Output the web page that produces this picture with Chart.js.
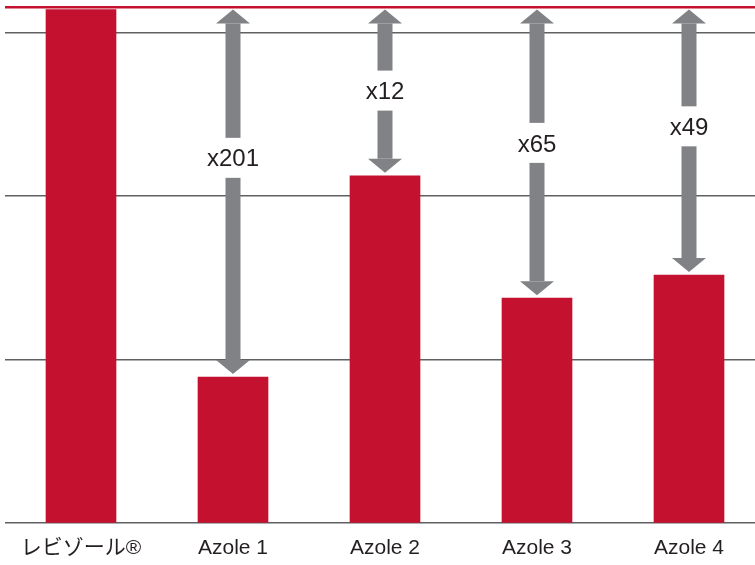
<!DOCTYPE html>
<html><head><meta charset="utf-8">
<script src="https://cdn.jsdelivr.net/npm/chart.js@4/dist/chart.umd.min.js"></script>
<style>
html,body{margin:0;padding:0;background:#fff;overflow:hidden;width:755px;height:565px}
#wrap{position:relative;width:770px;height:565px}
</style></head>
<body><div id="wrap"><canvas id="c"></canvas></div>
<script>
const categories = ["レビゾール®", "Azole 1", "Azole 2", "Azole 3", "Azole 4"];
const values = [1384, 7.8, 133, 23.7, 32.8];
const foldLabels = ["", "x201", "x12", "x65", "x49"];
const gridTicks = [1, 10, 100, 1000];
const axisMax = 1433;

// styling
const RED = '#c3112f';
const GREY_ARROW = '#808285';
const GRID = '#5f6062';
const labelFrac = [0, 0.407, 0.497, 0.467, 0.445];
const FONT = '"Liberation Sans", Arial, "Noto Sans CJK JP", sans-serif';

const arrowPlugin = {
  id: 'arrows',
  afterDatasetsDraw(chart) {
    const {ctx, scales: {x, y}} = chart;
    const topY = y.getPixelForValue(values[0]);
    const sw = 15, hw = 34, hh = 14, half = 20, fs = 24;
    ctx.save();
    for (let i = 1; i < values.length; i++) {
      const cx = x.getPixelForValue(i);
      const y0 = topY;
      const y1 = y.getPixelForValue(values[i]) - 3;
      const ly = y0 + (y1 - y0) * labelFrac[i];
      ctx.fillStyle = GREY_ARROW;
      ctx.fillRect(cx - sw / 2, y0 + hh, sw, (ly - half) - (y0 + hh));
      ctx.fillRect(cx - sw / 2, ly + half, sw, (y1 - hh) - (ly + half));
      ctx.beginPath();
      ctx.moveTo(cx, y0); ctx.lineTo(cx + hw / 2, y0 + hh); ctx.lineTo(cx - hw / 2, y0 + hh); ctx.closePath();
      ctx.fill();
      ctx.beginPath();
      ctx.moveTo(cx, y1); ctx.lineTo(cx + hw / 2, y1 - hh); ctx.lineTo(cx - hw / 2, y1 - hh); ctx.closePath();
      ctx.fill();
      ctx.fillStyle = '#231f20';
      ctx.font = fs + 'px ' + FONT;
      ctx.textAlign = 'center';
      ctx.textBaseline = 'alphabetic';
      ctx.fillText(foldLabels[i], cx, ly + fs * 0.36);
    }
    ctx.restore();
  }
};

new Chart(document.getElementById('c'), {
  type: 'bar',
  data: {
    labels: categories,
    datasets: [{
      data: values,
      backgroundColor: RED,
      barThickness: 70,
      borderWidth: 0
    }]
  },
  options: {
    responsive: true,
    maintainAspectRatio: false,
    animation: false,
    layout: {padding: {left: 5, right: 5, top: 7, bottom: -9}},
    plugins: {legend: {display: false}, tooltip: {enabled: false}},
    scales: {
      x: {
        grid: {display: false, drawTicks: false},
        border: {display: false},
        ticks: {color: '#231f20', padding: 13, font: {family: FONT, size: 21}, maxRotation: 0}
      },
      y: {
        type: 'logarithmic',
        min: 1,
        max: axisMax,
        afterBuildTicks(scale) {
          scale.ticks = gridTicks.concat([axisMax]).map(v => ({value: v}));
        },
        ticks: {display: false},
        border: {display: false},
        grid: {
          drawTicks: false,
          color: c => (c.tick && c.tick.value === axisMax) ? RED : GRID,
          lineWidth: c => (c.tick && c.tick.value === axisMax) ? 2.5 : 1.4
        }
      }
    }
  },
  plugins: [arrowPlugin]
});
</script>
</body></html>
